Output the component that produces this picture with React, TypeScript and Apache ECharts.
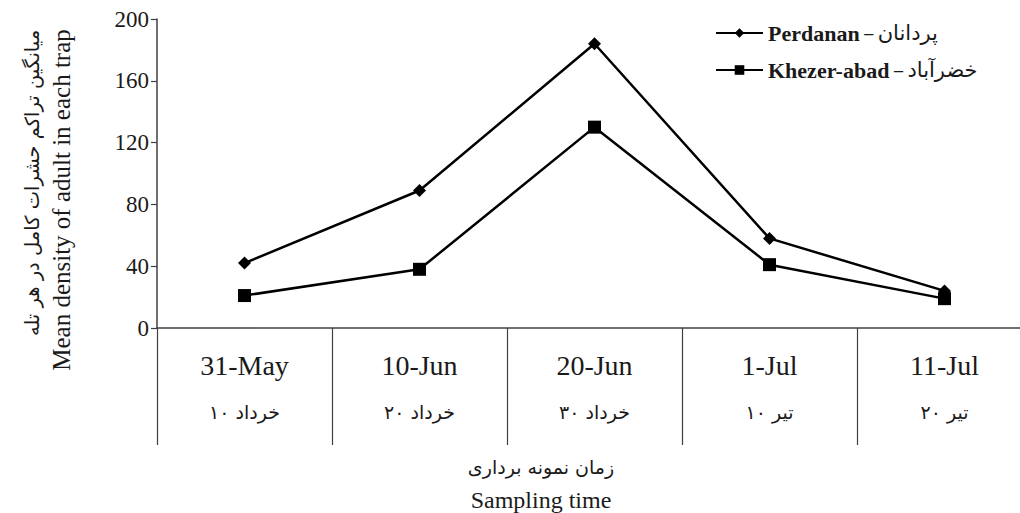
import React, { useEffect, useRef } from "react";
import * as echarts from "echarts";

const categories = ["31-May", "10-Jun", "20-Jun", "1-Jul", "11-Jul"];
const persianDays = ["۱۰", "۲۰", "۳۰", "۱۰", "۲۰"];
const persianMonths = ["خرداد", "خرداد", "خرداد", "تیر", "تیر"];
const perdanan = [42, 89, 184, 58, 24];
const khezerAbad = [21, 38, 130, 41, 19];
const seriesNames = ["Perdanan", "Khezer-abad"];
const seriesPersian = ["پردانان", "خضرآباد"];
const yMin = 0;
const yMax = 200;
const yInterval = 40;
const yTitleEn = "Mean density of adult in each trap";
const yTitleFa = "میانگین تراکم حشرات کامل در هر تله";
const xTitleEn = "Sampling time";
const xTitleFa = "زمان نمونه برداری";

const SERIF = "'Liberation Serif', 'DejaVu Serif', serif";
const FA = "'DejaVu Sans', 'Noto Sans', sans-serif";
const INK = "#1a1a1a";
const AXIS = "#404040";

export default function App() {
  const ref = useRef<HTMLDivElement>(null);
  useEffect(() => {
    if (!ref.current) return;
    const chart = echarts.init(ref.current, undefined, { renderer: "svg" });
    const faMap: Record<string, string> = {};
    seriesNames.forEach((n, i) => (faMap[n] = seriesPersian[i]));
    chart.setOption({
      animation: false,
      backgroundColor: "#fff",
      grid: { left: 157, top: 19, width: 875, height: 309, outerBoundsMode: "none", containLabel: false },
      legend: {
        orient: "vertical",
        left: 710,
        top: 17,
        itemWidth: 47,
        itemHeight: 12,
        itemGap: 15,
        data: seriesNames,
        formatter: (name: string) => `{b|${name}}{n| – }{fa|${faMap[name]}}`,
        textStyle: {
          color: INK,
          rich: {
            b: { fontFamily: SERIF, fontWeight: "bold", fontSize: 22, color: INK },
            n: { fontFamily: SERIF, fontWeight: "bold", fontSize: 18, color: INK },
            fa: { fontFamily: FA, fontSize: 21, color: INK },
          },
        },
      },
      xAxis: {
        type: "category",
        data: categories,
        boundaryGap: true,
        axisLine: { show: true, lineStyle: { color: AXIS, width: 1.5 } },
        axisTick: { show: true, length: 117, lineStyle: { color: AXIS, width: 1.2 } },
        axisLabel: {
          margin: 20,
          formatter: (v: string, i: number) =>
            `{en|${v}}\n{fd|${persianDays[i]}}{fs| }{fa|${persianMonths[i]}}`,
          rich: {
            en: { fontFamily: SERIF, fontSize: 28, color: INK, lineHeight: 34 },
            fd: { fontFamily: FA, fontSize: 19, color: INK, lineHeight: 60 },
            fs: { fontFamily: FA, fontSize: 19, color: INK, lineHeight: 60 },
            fa: { fontFamily: FA, fontSize: 19, color: INK, lineHeight: 60 },
          },
        },
        splitLine: { show: false },
      },
      yAxis: {
        type: "value",
        min: yMin,
        max: yMax,
        interval: yInterval,
        axisLine: { show: true, lineStyle: { color: AXIS, width: 1.5 } },
        axisTick: { show: true, length: 6, lineStyle: { color: AXIS, width: 1.2 } },
        axisLabel: { fontFamily: SERIF, fontSize: 23, color: INK, margin: 8 },
        splitLine: { show: false },
      },
      graphic: [
        {
          type: "text",
          x: 61,
          y: 200,
          rotation: Math.PI / 2,
          style: { text: yTitleEn, fontFamily: SERIF, fontSize: 25, fill: INK, align: "center", verticalAlign: "middle" },
        },
        {
          type: "text",
          x: 32,
          y: 183,
          rotation: Math.PI / 2,
          style: { text: yTitleFa, fontFamily: FA, fontSize: 19.5, fill: INK, align: "center", verticalAlign: "middle" },
        },
        {
          type: "text",
          x: 541,
          y: 467,
          style: { text: xTitleFa, fontFamily: FA, fontSize: 19, fill: INK, align: "center", verticalAlign: "middle" },
        },
        {
          type: "text",
          x: 541,
          y: 500,
          style: { text: xTitleEn, fontFamily: SERIF, fontSize: 24, fill: INK, align: "center", verticalAlign: "middle" },
        },
      ],
      series: [
        {
          name: seriesNames[0],
          type: "line",
          data: perdanan,
          symbol: "diamond",
          symbolSize: [13, 13],
          lineStyle: { color: "#000", width: 2.5 },
          itemStyle: { color: "#000" },
        },
        {
          name: seriesNames[1],
          type: "line",
          data: khezerAbad,
          symbol: "rect",
          symbolSize: 13,
          lineStyle: { color: "#000", width: 2.5 },
          itemStyle: { color: "#000" },
        },
      ],
    });
    return () => chart.dispose();
  }, []);
  return <div ref={ref} style={{ position: "absolute", left: 0, top: 0, width: 1020, height: 513 }} />;
}
